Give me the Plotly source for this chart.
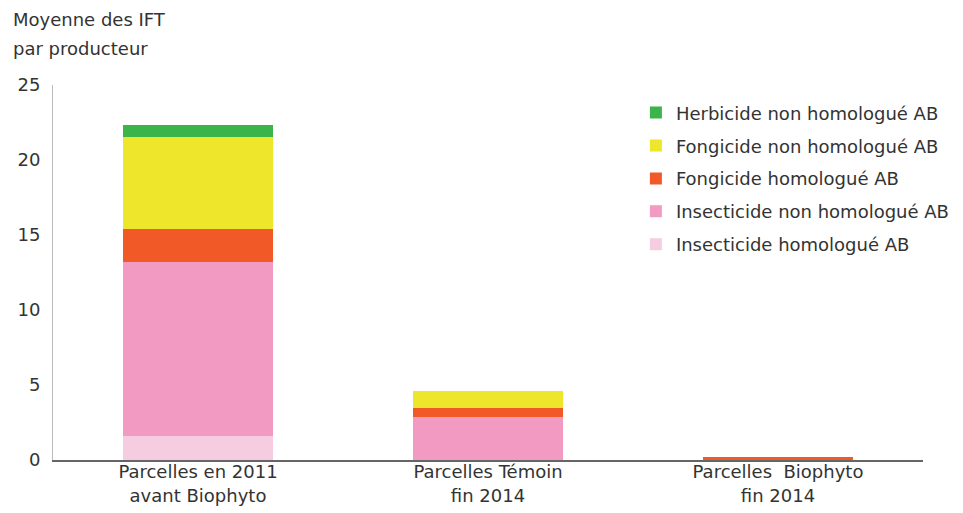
import plotly.graph_objects as go

categories = ["Parcelles en 2011<br>avant Biophyto", "Parcelles Témoin<br>fin 2014", "Parcelles  Biophyto<br>fin 2014"]
insecticide_homologue = [1.6, 0.0, 0.0]
insecticide_non_homologue = [11.6, 2.9, 0.0]
fongicide_homologue = [2.2, 0.55, 0.22]
fongicide_non_homologue = [6.15, 1.15, 0.0]
herbicide_non_homologue = [0.8, 0.0, 0.0]
y_ticks = [0, 5, 10, 15, 20, 25]

series = [
    ("Insecticide homologué AB", insecticide_homologue, "#f6cde0", 5),
    ("Insecticide non homologué AB", insecticide_non_homologue, "#f29ac1", 4),
    ("Fongicide homologué AB", fongicide_homologue, "#f15a27", 3),
    ("Fongicide non homologué AB", fongicide_non_homologue, "#ede62b", 2),
    ("Herbicide non homologué AB", herbicide_non_homologue, "#3bb44a", 1),
]

fig = go.Figure()
for name, vals, col, rank in series:
    fig.add_trace(go.Bar(
        x=categories, y=vals, name=name, legendgroup=name, legendrank=rank,
        marker=dict(color=col, line=dict(width=0)),
        width=0.514,
    ))

font_family = "DejaVu Sans, Liberation Sans, sans-serif"
txt = "#333333"
fig.update_layout(
    barmode="stack",
    width=947, height=505,
    margin=dict(l=45, r=32, t=77, b=53, autoexpand=False),
    paper_bgcolor="white", plot_bgcolor="white",
    font=dict(family=font_family, size=18, color=txt),
    showlegend=True,
    legend=dict(
        x=0.67, y=0.975, xanchor="left", yanchor="top",
        traceorder="grouped", tracegroupgap=6.5,
        font=dict(size=18, color=txt),
        bgcolor="rgba(0,0,0,0)",
    ),
    xaxis=dict(
        showline=True, linecolor="#666666", linewidth=1.5, automargin=False,
        ticks="", showgrid=False, ticklabelstandoff=-5,
        tickfont=dict(size=18, color=txt),
    ),
    yaxis=dict(
        range=[0, 25], tickvals=y_ticks, showgrid=False, zeroline=False,
        showline=True, linecolor="#bbbbbb", linewidth=1, automargin=False,
        ticks="", ticklabelstandoff=8,
        tickfont=dict(size=18, color=txt),
    ),
    annotations=[
        dict(text="Moyenne des IFT", xref="paper", yref="paper",
             x=0, xshift=-42, y=1, yshift=66, xanchor="left", yanchor="middle",
             showarrow=False, align="left", font=dict(size=18, color=txt)),
        dict(text="par producteur", xref="paper", yref="paper",
             x=0, xshift=-42, y=1, yshift=37, xanchor="left", yanchor="middle",
             showarrow=False, align="left", font=dict(size=18, color=txt)),
    ],
)
fig.write_html("out.html")
